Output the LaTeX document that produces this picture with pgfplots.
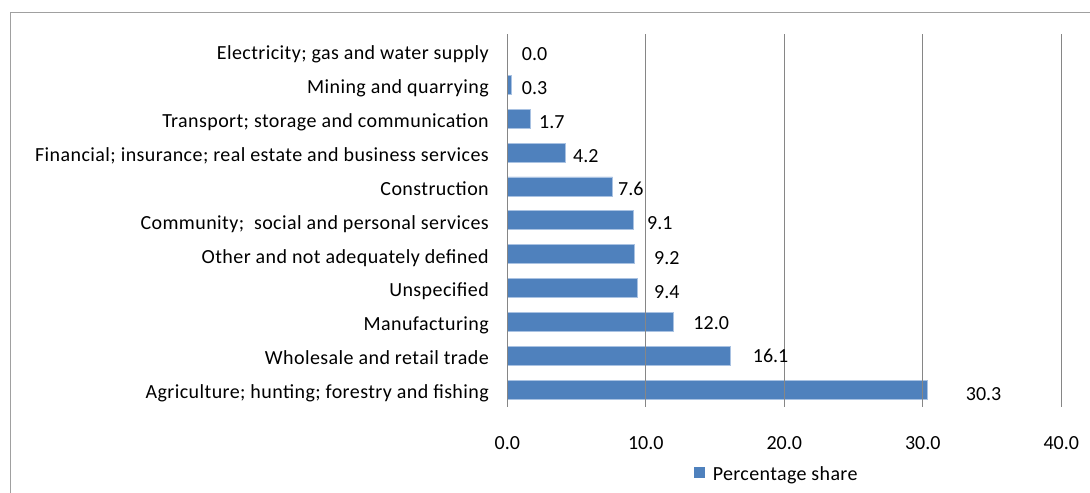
\documentclass[border=0pt]{standalone}
\usepackage{pgfplots}
\pgfplotsset{compat=1.18}
\usepackage{fontspec}
\setmainfont{Carlito}
\newfontfamily\lsfont[LetterSpace=2.1]{Carlito}
\newfontfamily\lgfont[LetterSpace=1.8]{Carlito}
\definecolor{barblue}{HTML}{4F81BD}
\definecolor{baredge}{HTML}{A9C2E2}
\definecolor{gridgray}{HTML}{868686}
\definecolor{framegray}{HTML}{A0A0A0}
\begin{document}
\fontsize{20bp}{24bp}\selectfont
\begin{tikzpicture}
\begin{axis}[
  at={(0,0)}, anchor=south west,
  scale only axis,
  width=554bp, height=372.7bp,
  xmin=0, xmax=40, ymin=-0.5, ymax=10.5,
  axis line style={draw=none},
  axis on top,
  major tick length=0pt,
  xtick={0,10,20,30,40},
  xticklabels={0.0,10.0,20.0,30.0,40.0},
  ytick={0,1,2,3,4,5,6,7,8,9,10},
  yticklabels={Agriculture; hunting; forestry and fishing,
    Wholesale and retail trade,
    Manufacturing,
    Unspecified,
    Other and not adequately defined,
    Community;\ \ social and personal services,
    Construction,
    {Financial; insurance; real estate and business services},
    Transport; storage and communication,
    Mining and quarrying,
    Electricity; gas and water supply},
  yticklabel style={font=\lsfont, anchor=base east, inner sep=0pt, xshift=-18.3bp, yshift=-8.8bp},
  xticklabel style={anchor=base, inner sep=0pt, yshift=-42.6bp},
  xmajorgrids,
  grid style={gridgray, line width=1bp},
  legend style={draw=none, fill=none, inner sep=0pt, outer sep=0pt,
    at={(axis description cs:0.3370,-0.1511)}, anchor=north west,
    nodes={inner sep=0pt, font=\lgfont},
    /tikz/every even column/.append style={column sep=0pt}},
  legend image code/.code={\fill[barblue] (0bp,-2.3bp) rectangle (10.3bp,8.3bp); \path (18bp,12bp);},
  clip=false,
]
\addplot[xbar, bar width=19bp, fill=barblue, draw=baredge, line width=0.8bp] coordinates {
  (30.3,0) (16.1,1) (12.0,2) (9.4,3) (9.2,4) (9.1,5) (7.6,6) (4.2,7) (1.7,8) (0.3,9) (0.0,10)
};
\addlegendentry{Percentage share}
\addplot[draw=none, mark=none, forget plot, nodes near coords, point meta=explicit symbolic,
  every node near coord/.append style={anchor=base west, inner sep=0pt}]
  table[meta=lab] {
x y lab
33.10 -0.31 30.3
17.72 0.79 16.1
13.43 1.78 12.0
10.59 2.70 9.4
10.59 3.70 9.2
10.09 4.72 9.1
7.99 5.72 7.6
4.74 6.72 4.2
2.29 7.725 1.7
1.04 8.725 0.3
1.04 9.72 0.0
};
\end{axis}
\draw[framegray, line width=0.9bp] (-497.3bp,-150bp) rectangle (650bp,394.7bp);
\pgfresetboundingbox
\useasboundingbox (-507.3bp,-86.3bp) rectangle (582.7bp,406.7bp);
\end{tikzpicture}
\end{document}
